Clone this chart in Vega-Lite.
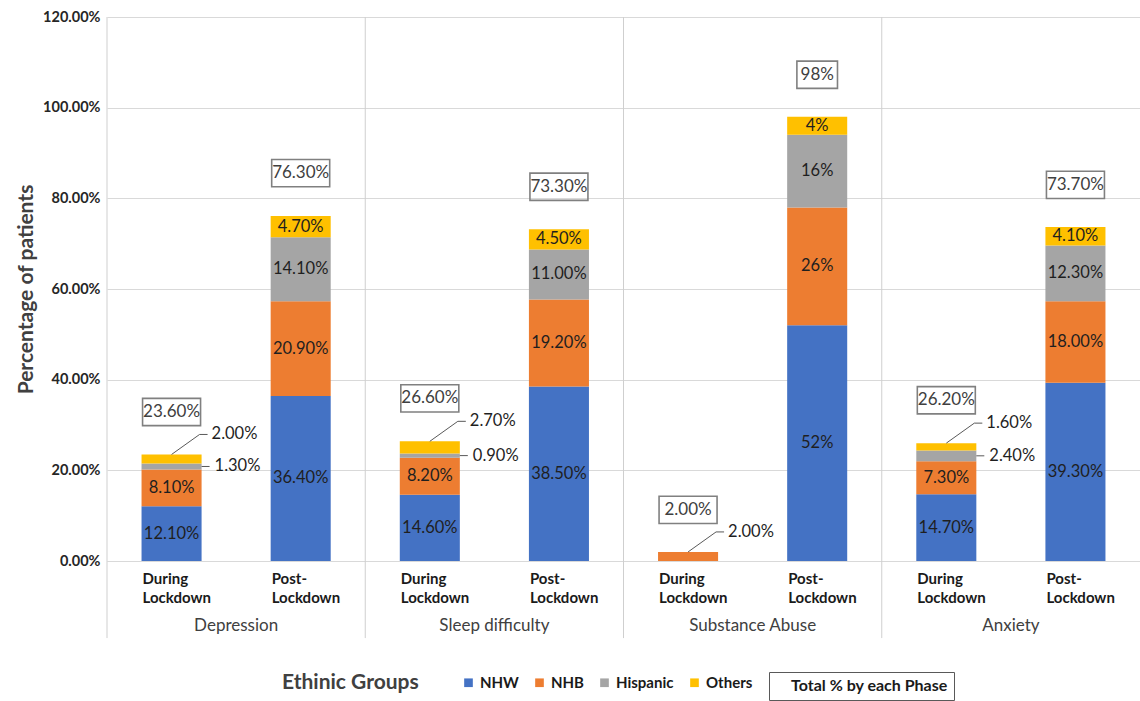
{
  "$schema": "https://vega.github.io/schema/vega-lite/v6.json",
  "autosize": {"type": "none"},
  "padding": {"left": 107, "top": 17, "right": 0, "bottom": 140},
  "width": 1033,
  "height": 544,
  "background": "white",
  "config": {"font": "Lato", "view": {"stroke": null}},
  "datasets": {
    "seg": [
      {"bar": "Depression|During Lockdown", "group": "NHW", "value": 12.1},
      {"bar": "Depression|During Lockdown", "group": "NHB", "value": 8.1},
      {"bar": "Depression|During Lockdown", "group": "Hispanic", "value": 1.3},
      {"bar": "Depression|During Lockdown", "group": "Others", "value": 2.0},
      {"bar": "Depression|Post-Lockdown", "group": "NHW", "value": 36.4},
      {"bar": "Depression|Post-Lockdown", "group": "NHB", "value": 20.9},
      {"bar": "Depression|Post-Lockdown", "group": "Hispanic", "value": 14.1},
      {"bar": "Depression|Post-Lockdown", "group": "Others", "value": 4.7},
      {"bar": "Sleep difficulty|During Lockdown", "group": "NHW", "value": 14.6},
      {"bar": "Sleep difficulty|During Lockdown", "group": "NHB", "value": 8.2},
      {"bar": "Sleep difficulty|During Lockdown", "group": "Hispanic", "value": 0.9},
      {"bar": "Sleep difficulty|During Lockdown", "group": "Others", "value": 2.7},
      {"bar": "Sleep difficulty|Post-Lockdown", "group": "NHW", "value": 38.5},
      {"bar": "Sleep difficulty|Post-Lockdown", "group": "NHB", "value": 19.2},
      {"bar": "Sleep difficulty|Post-Lockdown", "group": "Hispanic", "value": 11.0},
      {"bar": "Sleep difficulty|Post-Lockdown", "group": "Others", "value": 4.5},
      {"bar": "Substance Abuse|During Lockdown", "group": "NHB", "value": 2.0},
      {"bar": "Substance Abuse|Post-Lockdown", "group": "NHW", "value": 52},
      {"bar": "Substance Abuse|Post-Lockdown", "group": "NHB", "value": 26},
      {"bar": "Substance Abuse|Post-Lockdown", "group": "Hispanic", "value": 16},
      {"bar": "Substance Abuse|Post-Lockdown", "group": "Others", "value": 4},
      {"bar": "Anxiety|During Lockdown", "group": "NHW", "value": 14.7},
      {"bar": "Anxiety|During Lockdown", "group": "NHB", "value": 7.3},
      {"bar": "Anxiety|During Lockdown", "group": "Hispanic", "value": 2.4},
      {"bar": "Anxiety|During Lockdown", "group": "Others", "value": 1.6},
      {"bar": "Anxiety|Post-Lockdown", "group": "NHW", "value": 39.3},
      {"bar": "Anxiety|Post-Lockdown", "group": "NHB", "value": 18.0},
      {"bar": "Anxiety|Post-Lockdown", "group": "Hispanic", "value": 12.3},
      {"bar": "Anxiety|Post-Lockdown", "group": "Others", "value": 4.1}
    ],
    "tot": [
      {"bar": "Depression|During Lockdown", "total": 23.6},
      {"bar": "Depression|Post-Lockdown", "total": 76.3},
      {"bar": "Sleep difficulty|During Lockdown", "total": 26.6},
      {"bar": "Sleep difficulty|Post-Lockdown", "total": 73.3},
      {"bar": "Substance Abuse|During Lockdown", "total": 2.0},
      {"bar": "Substance Abuse|Post-Lockdown", "total": 98},
      {"bar": "Anxiety|During Lockdown", "total": 26.2},
      {"bar": "Anxiety|Post-Lockdown", "total": 73.7}
    ],
    "cats": [
      {"cat": "Depression"},
      {"cat": "Sleep difficulty"},
      {"cat": "Substance Abuse"},
      {"cat": "Anxiety"}
    ]
  },
  "layer": [
    {
      "data": {"name": "cats"},
      "mark": {"type": "rule", "color": "#cfcfcf", "strokeWidth": 1},
      "encoding": {
        "x": {
          "field": "cat", "type": "nominal", "bandPosition": 0,
          "scale": {"domain": ["Depression", "Sleep difficulty", "Substance Abuse", "Anxiety"], "paddingInner": 0, "paddingOuter": 0},
          "axis": {"orient": "bottom", "title": null, "ticks": false, "domain": false, "labelPadding": 56, "labelFontSize": 17, "labelColor": "#404040", "labelAngle": 0}
        },
        "y": {"datum": 120, "type": "quantitative"},
        "y2": {"datum": -17}
      }
    },
    {
      "layer": [
        {
          "data": {"name": "seg"},
          "transform": [
            {"calculate": "indexof(['NHW','NHB','Hispanic','Others'], datum.group)", "as": "ord"},
            {"stack": "value", "groupby": ["bar"], "sort": [{"field": "ord", "order": "ascending"}], "as": ["v0", "v1"]},
            {"calculate": "(datum.v0 + datum.v1) / 2", "as": "mid"},
            {"calculate": "indexof(datum.bar, 'Substance Abuse|Post') >= 0 ? format(datum.value, '.0f') + '%' : format(datum.value, '.2f') + '%'", "as": "lbl"}
          ],
          "layer": [
            {
              "mark": {"type": "bar", "width": {"band": 0.465}},
              "encoding": {
                "x": {
                  "field": "bar", "type": "nominal",
                  "scale": {"domain": ["Depression|During Lockdown", "Depression|Post-Lockdown", "Sleep difficulty|During Lockdown", "Sleep difficulty|Post-Lockdown", "Substance Abuse|During Lockdown", "Substance Abuse|Post-Lockdown", "Anxiety|During Lockdown", "Anxiety|Post-Lockdown"], "paddingInner": 0, "paddingOuter": 0},
                  "axis": {"orient": "bottom", "title": null, "labelExpr": "indexof(datum.value, 'During') >= 0 ? ['During', 'Lockdown'] : ['Post-', 'Lockdown']", "labelAlign": "left", "labelOffset": -29, "labelAngle": 0, "labelFontSize": 15, "labelFontWeight": "bold", "labelColor": "#1a1a1a", "labelLineHeight": 19, "labelPadding": 10, "labelOverlap": false, "ticks": false, "domain": true, "domainColor": "#d9d9d9"}
                },
                "y": {
                  "field": "v1", "type": "quantitative",
                  "scale": {"domain": [0, 120], "nice": false},
                  "axis": {"title": "Percentage of patients", "values": [0, 20, 40, 60, 80, 100, 120], "labelExpr": "format(datum.value, '.2f') + '%'", "grid": true, "gridColor": "#d9d9d9", "domain": false, "ticks": false, "labelFontWeight": "bold", "labelFontSize": 14.5, "labelColor": "#262626", "labelPadding": 7, "titleFontSize": 21, "titleFontWeight": "bold", "titleColor": "#404040", "titlePadding": 6}
                },
                "y2": {"field": "v0"},
                "color": {
                  "field": "group", "type": "nominal",
                  "scale": {"domain": ["NHW", "NHB", "Hispanic", "Others"], "range": ["#4472C4", "#ED7D31", "#A5A5A5", "#FFC000"]},
                  "legend": {"orient": "none", "legendX": 175, "legendY": 658, "direction": "horizontal", "title": "Ethinic Groups", "titleOrient": "left", "titleFontSize": 21, "titleFontWeight": "bold", "titleColor": "#404040", "titlePadding": 42, "labelFontSize": 15, "labelFontWeight": "bold", "labelColor": "#1a1a1a", "symbolType": "square", "symbolSize": 75, "symbolStrokeWidth": 0, "columnPadding": 13, "labelOffset": 4}
                }
              }
            },
            {
              "transform": [{"filter": "datum.value >= 3"}],
              "mark": {"type": "text", "fontSize": 16.5, "color": "#1f1f1f", "baseline": "middle"},
              "encoding": {
                "x": {"field": "bar", "type": "nominal", "scale": {"domain": ["Depression|During Lockdown", "Depression|Post-Lockdown", "Sleep difficulty|During Lockdown", "Sleep difficulty|Post-Lockdown", "Substance Abuse|During Lockdown", "Substance Abuse|Post-Lockdown", "Anxiety|During Lockdown", "Anxiety|Post-Lockdown"]}},
                "y": {"field": "mid", "type": "quantitative"},
                "text": {"field": "lbl"}
              }
            },
            {
              "transform": [{"filter": "datum.value < 3 && datum.group == 'Hispanic'"}],
              "layer": [
                {
                  "mark": {"type": "text", "fontSize": 16.5, "color": "#1f1f1f", "baseline": "middle", "align": "left", "dx": 43},
                  "encoding": {
                    "x": {"field": "bar", "type": "nominal", "scale": {"domain": ["Depression|During Lockdown", "Depression|Post-Lockdown", "Sleep difficulty|During Lockdown", "Sleep difficulty|Post-Lockdown", "Substance Abuse|During Lockdown", "Substance Abuse|Post-Lockdown", "Anxiety|During Lockdown", "Anxiety|Post-Lockdown"]}},
                    "y": {"field": "mid", "type": "quantitative"},
                    "text": {"field": "lbl"}
                  }
                },
                {
                  "mark": {"type": "rule", "color": "#595959", "strokeWidth": 1, "xOffset": 30, "x2Offset": 38},
                  "encoding": {
                    "x": {"field": "bar", "type": "nominal", "scale": {"domain": ["Depression|During Lockdown", "Depression|Post-Lockdown", "Sleep difficulty|During Lockdown", "Sleep difficulty|Post-Lockdown", "Substance Abuse|During Lockdown", "Substance Abuse|Post-Lockdown", "Anxiety|During Lockdown", "Anxiety|Post-Lockdown"]}},
                    "x2": {"field": "bar"},
                    "y": {"field": "mid", "type": "quantitative"}
                  }
                }
              ]
            },
            {
              "transform": [{"filter": "datum.value < 3 && datum.group != 'Hispanic'"}],
              "layer": [
                {
                  "mark": {"type": "text", "fontSize": 16.5, "color": "#1f1f1f", "baseline": "middle", "align": "left", "dx": 40, "dy": -20},
                  "encoding": {
                    "x": {"field": "bar", "type": "nominal", "scale": {"domain": ["Depression|During Lockdown", "Depression|Post-Lockdown", "Sleep difficulty|During Lockdown", "Sleep difficulty|Post-Lockdown", "Substance Abuse|During Lockdown", "Substance Abuse|Post-Lockdown", "Anxiety|During Lockdown", "Anxiety|Post-Lockdown"]}},
                    "y": {"field": "v1", "type": "quantitative"},
                    "text": {"field": "lbl"}
                  }
                },
                {
                  "mark": {"type": "rule", "color": "#595959", "strokeWidth": 1, "xOffset": 0, "x2Offset": 28, "yOffset": 0, "y2Offset": -20},
                  "encoding": {
                    "x": {"field": "bar", "type": "nominal", "scale": {"domain": ["Depression|During Lockdown", "Depression|Post-Lockdown", "Sleep difficulty|During Lockdown", "Sleep difficulty|Post-Lockdown", "Substance Abuse|During Lockdown", "Substance Abuse|Post-Lockdown", "Anxiety|During Lockdown", "Anxiety|Post-Lockdown"]}},
                    "x2": {"field": "bar"},
                    "y": {"field": "v1", "type": "quantitative"},
                    "y2": {"field": "v1"}
                  }
                },
                {
                  "mark": {"type": "rule", "color": "#595959", "strokeWidth": 1, "xOffset": 28, "x2Offset": 36, "yOffset": -20},
                  "encoding": {
                    "x": {"field": "bar", "type": "nominal", "scale": {"domain": ["Depression|During Lockdown", "Depression|Post-Lockdown", "Sleep difficulty|During Lockdown", "Sleep difficulty|Post-Lockdown", "Substance Abuse|During Lockdown", "Substance Abuse|Post-Lockdown", "Anxiety|During Lockdown", "Anxiety|Post-Lockdown"]}},
                    "x2": {"field": "bar"},
                    "y": {"field": "v1", "type": "quantitative"}
                  }
                }
              ]
            }
          ]
        },
        {
          "data": {"name": "tot"},
          "transform": [
            {"calculate": "indexof(datum.bar, 'Substance Abuse|Post') >= 0 ? format(datum.total, '.0f') + '%' : format(datum.total, '.2f') + '%'", "as": "lbl"},
            {"calculate": "'Total % by each Phase'", "as": "kind"}
          ],
          "layer": [
            {
              "mark": {"type": "point", "filled": false, "size": 3364, "strokeWidth": 1.6, "yOffset": -42, "opacity": 1},
              "encoding": {
                "x": {"field": "bar", "type": "nominal", "scale": {"domain": ["Depression|During Lockdown", "Depression|Post-Lockdown", "Sleep difficulty|During Lockdown", "Sleep difficulty|Post-Lockdown", "Substance Abuse|During Lockdown", "Substance Abuse|Post-Lockdown", "Anxiety|During Lockdown", "Anxiety|Post-Lockdown"]}},
                "y": {"field": "total", "type": "quantitative"},
                "shape": {"condition": {"test": "length(datum.lbl) < 5", "value": "M-0.7,-0.47H0.7V0.47H-0.7Z"}, "value": "M-1,-0.47H1V0.47H-1Z"},
                "stroke": {
                  "field": "kind", "type": "nominal",
                  "scale": {"range": ["#808080"]},
                  "legend": {"orient": "none", "legendX": 662, "legendY": 655, "title": null, "symbolSize": 0, "symbolOpacity": 0, "labelOffset": 0, "labelFontSize": 16, "labelFontWeight": "bold", "labelColor": "#1a1a1a", "strokeColor": "#595959", "padding": 6}
                }
              }
            },
            {
              "mark": {"type": "text", "fontSize": 17, "color": "#404040", "baseline": "middle", "yOffset": -42},
              "encoding": {
                "x": {"field": "bar", "type": "nominal", "scale": {"domain": ["Depression|During Lockdown", "Depression|Post-Lockdown", "Sleep difficulty|During Lockdown", "Sleep difficulty|Post-Lockdown", "Substance Abuse|During Lockdown", "Substance Abuse|Post-Lockdown", "Anxiety|During Lockdown", "Anxiety|Post-Lockdown"]}},
                "y": {"field": "total", "type": "quantitative"},
                "text": {"field": "lbl"}
              }
            }
          ]
        }
      ]
    }
  ],
  "resolve": {"scale": {"x": "independent"}, "axis": {"x": "independent"}}
}
